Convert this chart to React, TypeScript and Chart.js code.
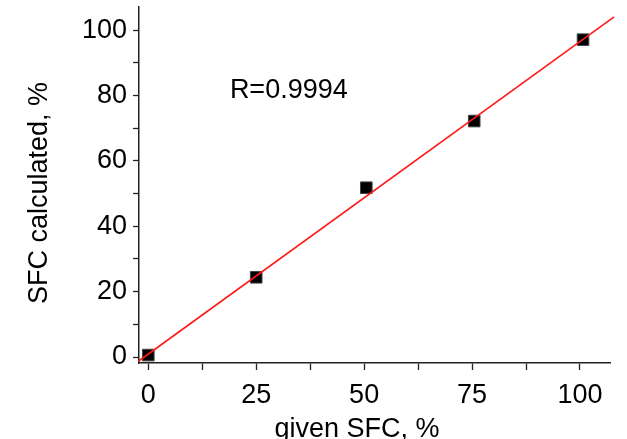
import { useEffect, useRef } from 'react';
import { Chart, registerables } from 'chart.js';
Chart.register(...registerables);

const givenSFC = [0, 25, 50.5, 75.5, 100.7];
const calculatedSFC = [0.6, 24.4, 51.8, 72.2, 97.1];
const fitLineX = [-2.3, 107.9];
const fitLineY = [-1.3, 104.1];
const xMajorTicks = [0, 25, 50, 75, 100];
const yMajorTicks = [0, 20, 40, 60, 80, 100];
const xRange = [-2.15, 106.95];
const yRange = [-1.83, 107.1];
const annotationText = 'R=0.9994';
const annotationPos = [18.9, 81.4];
const xTitle = 'given SFC, %';
const yTitle = 'SFC calculated, %';

const FONT = '"Liberation Sans", Arial, sans-serif';
const TEXT = '#000';

export default function App() {
  const ref = useRef<HTMLCanvasElement>(null);
  useEffect(() => {
    document.body.style.margin = '0';
    const textPlugin = {
      id: 'texts',
      afterDraw(chart: any) {
        const { ctx, scales } = chart;
        const x = scales.x, y = scales.y;
        ctx.save();
        ctx.fillStyle = TEXT;
        ctx.font = `27px ${FONT}`;
        ctx.textAlign = 'left';
        ctx.textBaseline = 'middle';
        ctx.fillText(annotationText, x.getPixelForValue(annotationPos[0]), y.getPixelForValue(annotationPos[1]));
        ctx.textAlign = 'center';
        ctx.textBaseline = 'alphabetic';
        ctx.fillText(xTitle, 357, 437);
        ctx.translate(47, 193);
        ctx.rotate(-Math.PI / 2);
        ctx.fillText(yTitle, 0, 0);
        ctx.restore();
      },
    };
    const chart = new Chart(ref.current!, {
      type: 'scatter',
      data: {
        datasets: [
          {
            label: 'fit',
            data: fitLineX.map((v, i) => ({ x: v, y: fitLineY[i] })),
            showLine: true,
            borderColor: '#ff1a1a',
            borderWidth: 1.6,
            pointRadius: 0,
            clip: 10,
          } as any,
          {
            label: 'SFC',
            data: givenSFC.map((v, i) => ({ x: v, y: calculatedSFC[i] })),
            pointStyle: 'rect',
            pointRadius: 8.2,
            backgroundColor: '#000',
            borderColor: '#444',
            borderWidth: 1,
          },
        ],
      },
      options: {
        animation: false,
        responsive: false,
        events: [],
        layout: { padding: { left: 0, top: 7, right: 17, bottom: 0 }, autoPadding: false },
        plugins: { legend: { display: false }, tooltip: { enabled: false } },
        scales: {
          x: {
            type: 'linear',
            min: xRange[0],
            max: xRange[1],
            afterFit: (s: any) => { s.height = 76; s.paddingLeft = 0; s.paddingRight = 0; },
            border: { color: '#222', width: 1.5 },
            grid: { drawOnChartArea: false, drawTicks: true, tickLength: 7, tickColor: '#222', tickWidth: 1.3 },
            ticks: {
              stepSize: 12.5,
              includeBounds: false,
              autoSkip: false,
              maxRotation: 0,
              padding: 9,
              color: TEXT,
              font: { family: FONT, size: 27 },
              callback: (v: any) => (xMajorTicks.includes(Number(v)) ? String(v) : ''),
            },
          },
          y: {
            type: 'linear',
            min: yRange[0],
            max: yRange[1],
            afterFit: (s: any) => { s.width = 139; s.paddingTop = 0; s.paddingBottom = 0; },
            border: { color: '#222', width: 1.5 },
            grid: { drawOnChartArea: false, drawTicks: true, tickLength: 6, tickColor: '#222', tickWidth: 1.3 },
            ticks: {
              stepSize: 10,
              includeBounds: false,
              autoSkip: false,
              padding: 6,
              color: TEXT,
              font: { family: FONT, size: 27 },
              callback: (v: any) => (yMajorTicks.includes(Number(v)) ? String(v) : ''),
            },
          },
        },
      },
      plugins: [textPlugin],
    });
    return () => chart.destroy();
  }, []);
  return (
    <div style={{ width: 627, height: 439 }}>
      <canvas ref={ref} width={627} height={439} style={{ display: 'block' }} />
    </div>
  );
}
